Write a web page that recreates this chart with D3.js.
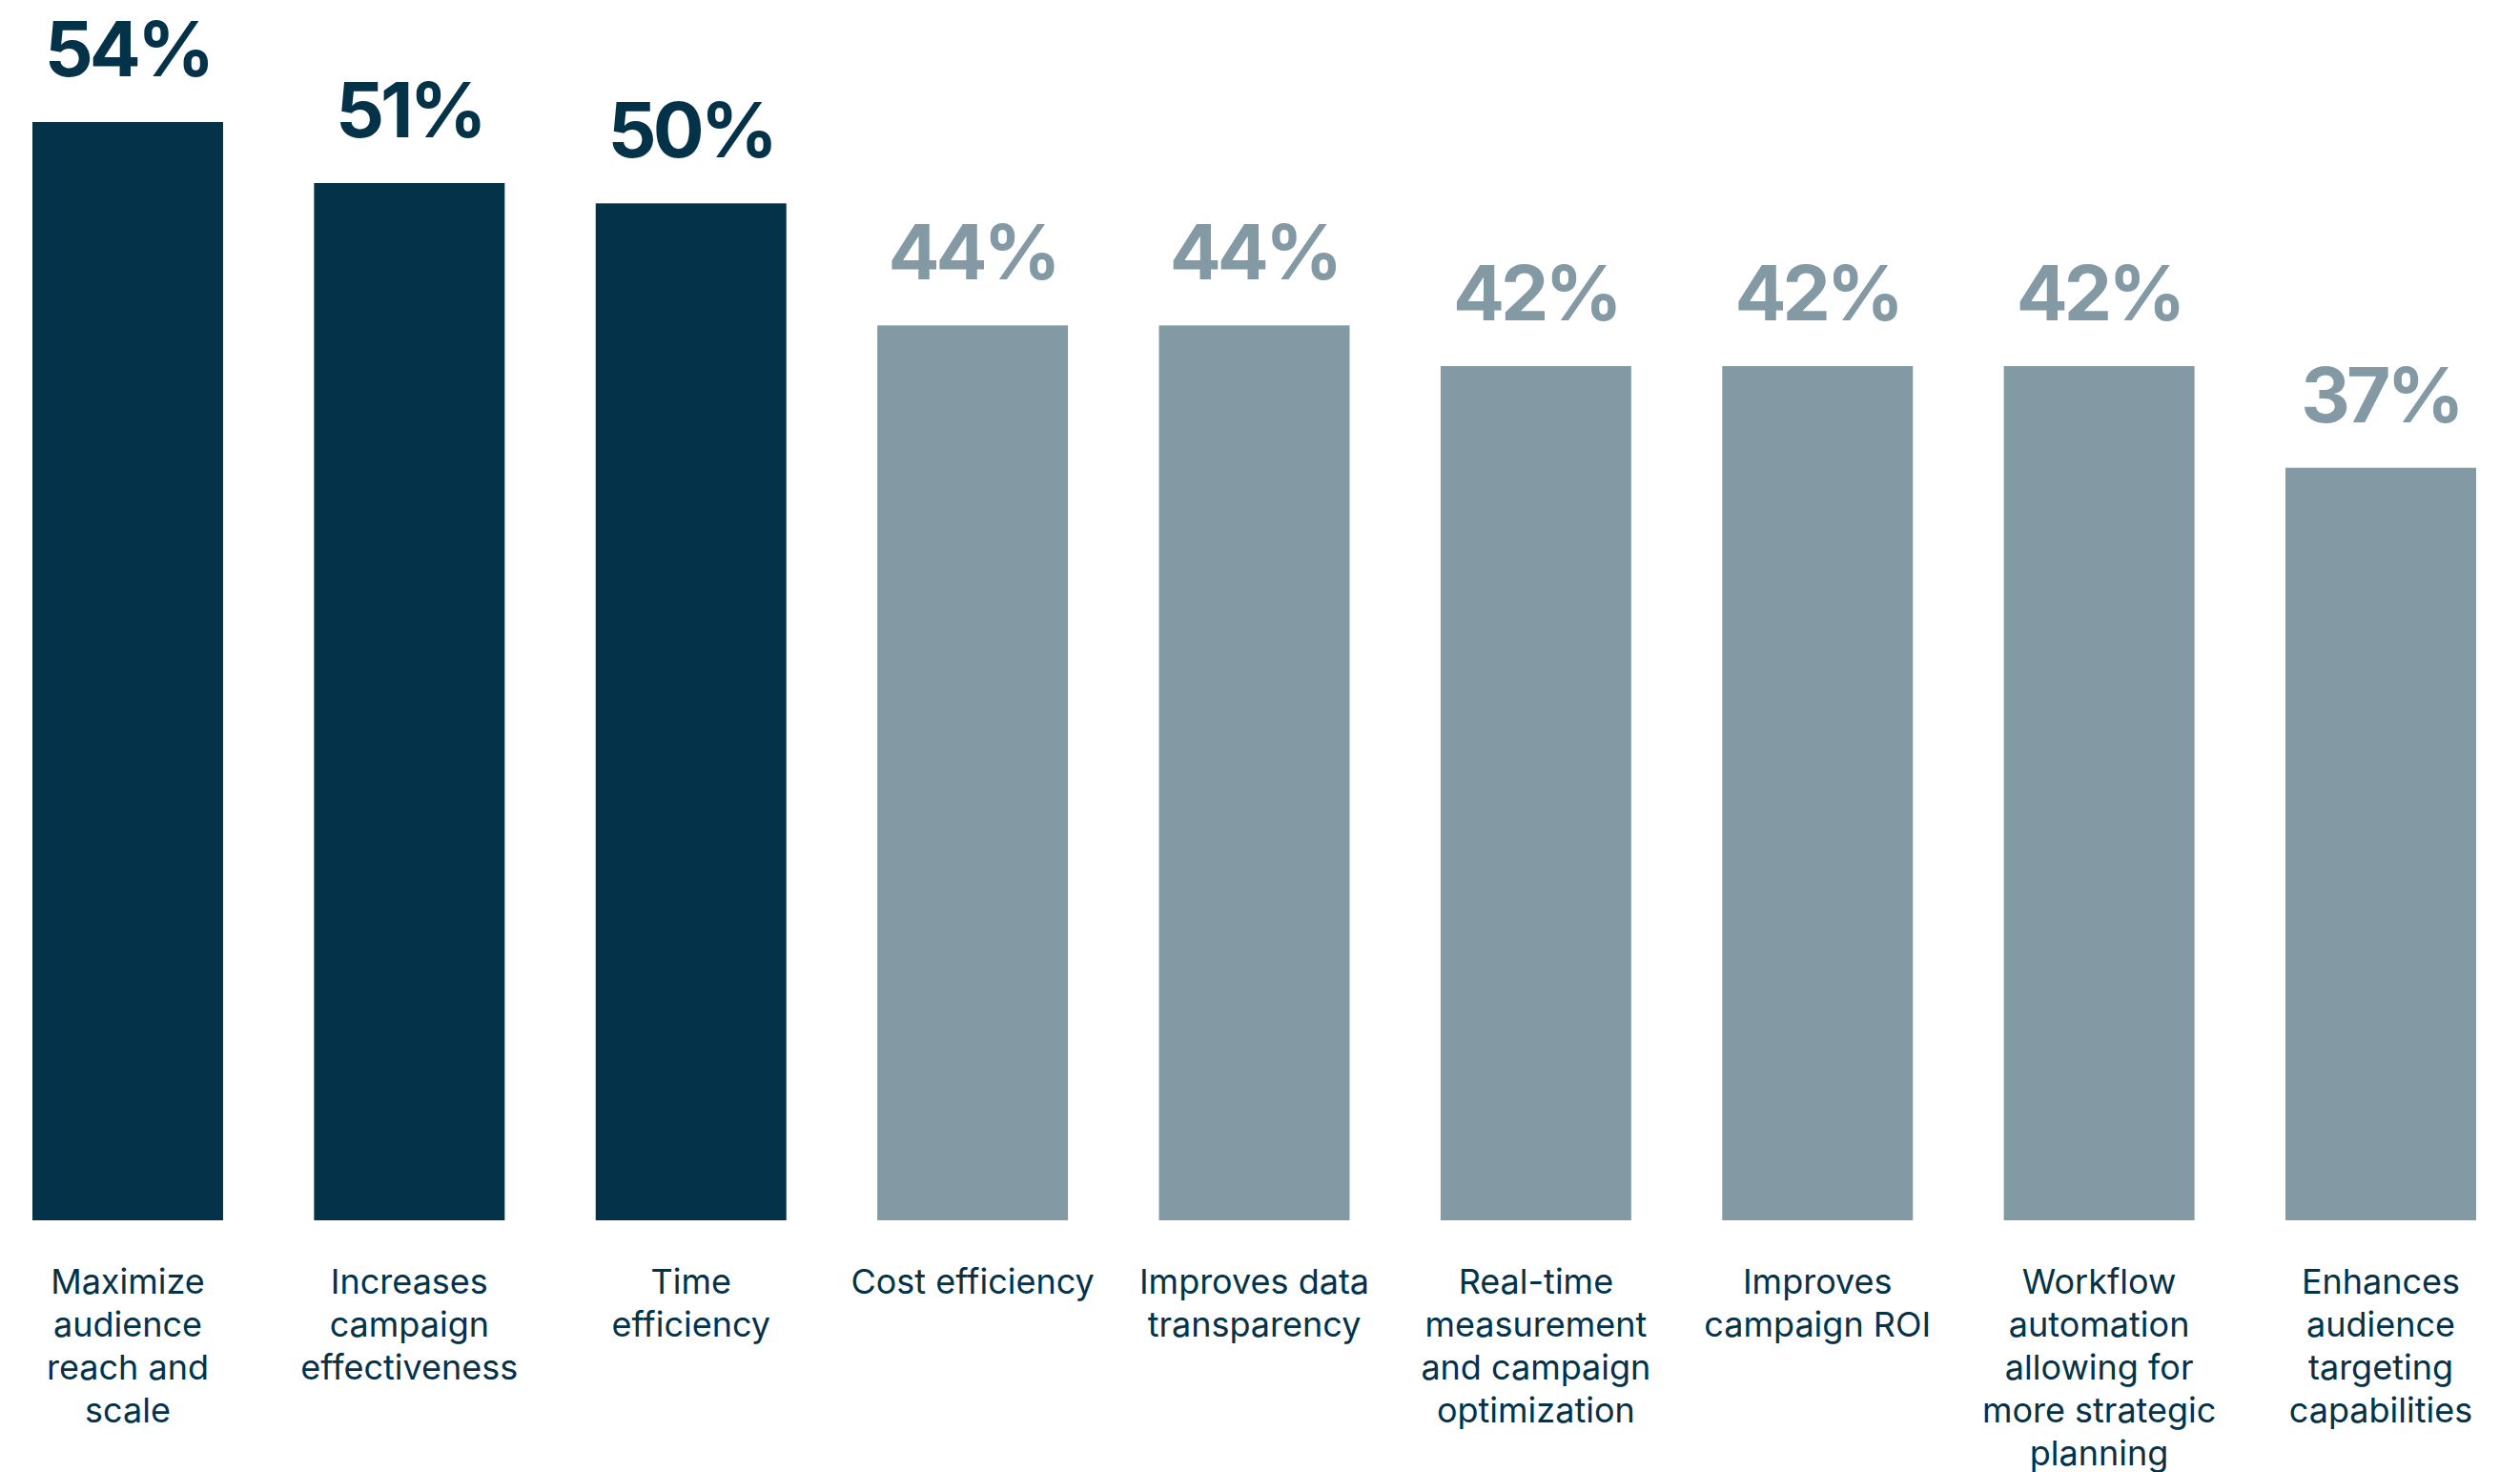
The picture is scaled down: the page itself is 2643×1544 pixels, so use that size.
<!DOCTYPE html>
<html>
<head>
<meta charset="utf-8">
<script src="https://cdn.jsdelivr.net/npm/d3@7"></script>
<style>
  html, body { margin: 0; padding: 0; background: #ffffff; }
  svg { display: block; }
</style>
</head>
<body>
<svg id="chart" width="2643" height="1544"></svg>
<script>
// Benefits ranked by share of respondents
const categories = [
  "Maximize audience reach and scale",
  "Increases campaign effectiveness",
  "Time efficiency",
  "Cost efficiency",
  "Improves data transparency",
  "Real-time measurement and campaign optimization",
  "Improves campaign ROI",
  "Workflow automation allowing for more strategic planning",
  "Enhances audience targeting capabilities"
];
const categoryLines = [
  ["Maximize", "audience", "reach and", "scale"],
  ["Increases", "campaign", "effectiveness"],
  ["Time", "efficiency"],
  ["Cost efficiency"],
  ["Improves data", "transparency"],
  ["Real-time", "measurement", "and campaign", "optimization"],
  ["Improves", "campaign ROI"],
  ["Workflow", "automation", "allowing for", "more strategic", "planning"],
  ["Enhances", "audience", "targeting", "capabilities"]
];
const values = [54, 51, 50, 44, 44, 42, 42, 42, 37];
const highlighted = [true, true, true, false, false, false, false, false, false];

const darkColor = "#033249";
const mutedColor = "#839aa5";

const svg = d3.select("#chart");

const x = d3.scaleBand()
  .domain(categories)
  .range([34, 2597])
  .paddingInner(0.323)
  .paddingOuter(0);

const y = d3.scaleLinear()
  .domain([0, 54])
  .range([1280, 128]);

const data = categories.map((c, i) => ({
  name: c, lines: categoryLines[i], value: values[i], hi: highlighted[i]
}));

// Bars
svg.append("g")
  .selectAll("rect")
  .data(data)
  .join("rect")
  .attr("x", d => x(d.name))
  .attr("y", d => y(d.value))
  .attr("width", x.bandwidth())
  .attr("height", d => y(0) - y(d.value))
  .attr("fill", d => d.hi ? darkColor : mutedColor);

// Value labels above bars
svg.append("g")
  .selectAll("text")
  .data(data)
  .join("text")
  .attr("x", d => x(d.name) + x.bandwidth() / 2)
  .attr("y", d => y(d.value) - 48)
  .attr("text-anchor", "middle")
  .attr("font-family", "Inter, 'Noto Sans', sans-serif")
  .attr("font-weight", 700)
  .attr("font-size", 80)
  .attr("letter-spacing", -4)
  .attr("fill", d => d.hi ? darkColor : mutedColor)
  .text(d => d.value + "%");

// Category labels below the baseline
const labels = svg.append("g")
  .selectAll("text")
  .data(data)
  .join("text")
  .attr("x", d => x(d.name) + x.bandwidth() / 2)
  .attr("y", 1357)
  .attr("text-anchor", "middle")
  .attr("font-family", "Inter, 'Noto Sans', sans-serif")
  .attr("font-weight", 400)
  .attr("font-size", 36)
  .attr("fill", darkColor);

labels.selectAll("tspan")
  .data(d => d.lines.map(l => ({ l, cx: x(d.name) + x.bandwidth() / 2 })))
  .join("tspan")
  .attr("x", t => t.cx)
  .attr("dy", (t, i) => i === 0 ? 0 : 45)
  .text(t => t.l);
</script>
</body>
</html>
